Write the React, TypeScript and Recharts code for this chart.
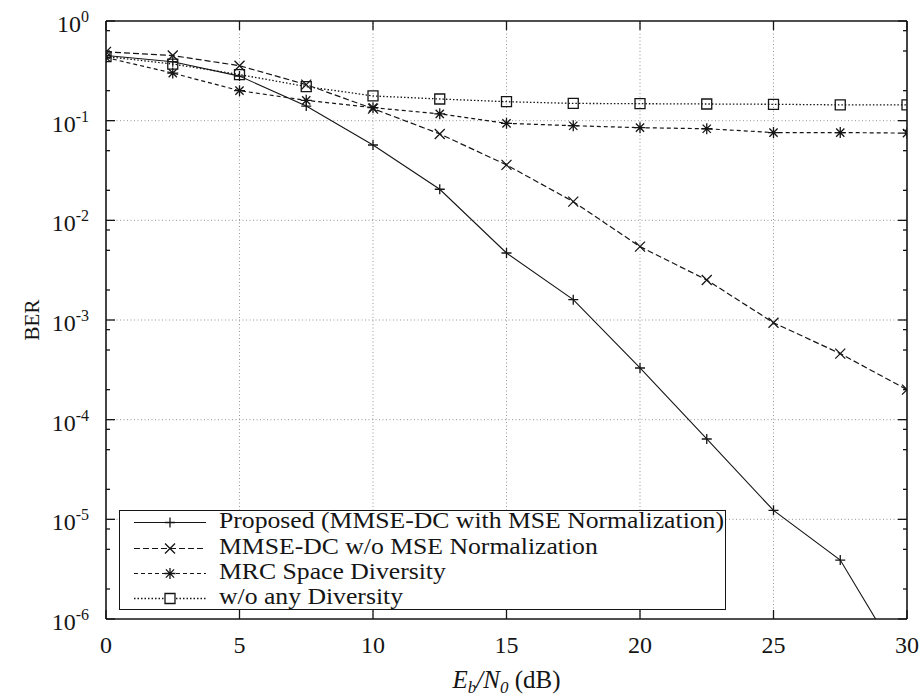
import React from 'react';
import { LineChart, Line, XAxis, YAxis, ReferenceLine } from 'recharts';

// ---- data ----
const snrDb = [0, 2.5, 5, 7.5, 10, 12.5, 15, 17.5, 20, 22.5, 25, 27.5, 30];
const proposedBer = [0.45, 0.39, 0.28, 0.14, 0.057, 0.0205, 0.0047, 0.0016, 3.3e-4, 6.4e-5, 1.23e-5, 3.9e-6, 3e-7];
const mmseNoNormBer = [0.49, 0.45, 0.356, 0.23, 0.132, 0.0736, 0.036, 0.0154, 0.00545, 0.00252, 9.4e-4, 4.6e-4, 2.0e-4];
const mrcBer = [0.43, 0.3, 0.2, 0.16, 0.135, 0.117, 0.094, 0.089, 0.085, 0.083, 0.076, 0.076, 0.075];
const noDiversityBer = [0.44, 0.37, 0.29, 0.22, 0.177, 0.165, 0.155, 0.149, 0.148, 0.147, 0.146, 0.144, 0.144];

const seriesNames = [
  'Proposed (MMSE-DC with MSE Normalization)',
  'MMSE-DC w/o MSE Normalization',
  'MRC Space Diversity',
  'w/o any Diversity',
];

const xTicks = [0, 5, 10, 15, 20, 25, 30];
const xGridValues = [5, 10, 15, 20, 25];
const decadeExponents = [-6, -5, -4, -3, -2, -1, 0];
const minorMantissas = [2, 5, 8];
const yLabel = 'BER';

// ---- derived tables ----
const data = snrDb.map((x, i) => ({
  x,
  proposed: proposedBer[i],
  mmse: mmseNoNormBer[i],
  mrc: mrcBer[i],
  none: noDiversityBer[i],
}));
const decades = decadeExponents.map((e) => Number(`1e${e}`));
const yTicks: number[] = [];
decadeExponents.forEach((e) => {
  yTicks.push(Number(`1e${e}`));
  if (e < 0) minorMantissas.forEach((m) => yTicks.push(Number(`${m}e${e}`)));
});
yTicks.sort((a, b) => a - b);

const INK = '#151515';
const FONT = '"Liberation Serif", "Times New Roman", serif';

const isMajor = (v: number) => {
  const lg = Math.log10(v);
  return Math.abs(lg - Math.round(lg)) < 1e-6;
};

// ---- markers ----
const plusPath = (cx: number, cy: number, r = 5) => `M${cx - r},${cy}h${2 * r}M${cx},${cy - r}v${2 * r}`;
const crossPath = (cx: number, cy: number, r = 5) => `M${cx - r},${cy - r}L${cx + r},${cy + r}M${cx - r},${cy + r}L${cx + r},${cy - r}`;
const starPath = (cx: number, cy: number, r = 5.5) => plusPath(cx, cy, r) + crossPath(cx, cy, r * 0.75);
const squarePath = (cx: number, cy: number, r = 5) => `M${cx - r},${cy - r}h${2 * r}v${2 * r}h${-2 * r}Z`;

const markerPaths = [plusPath, crossPath, starPath, squarePath];
const dashes = ['', '6 3', '4 3', '1.5 2'];
const widths = [1.1, 1.2, 1.2, 1.3];

const makeDot = (k: number) => (p: any) => {
  if (p.cx == null || p.cy == null) return <g key={p.index} />;
  return <path key={p.index} d={markerPaths[k](p.cx, p.cy)} stroke={INK} strokeWidth={1.3} fill="none" />;
};

// ---- axis ticks ----
const LeftTick = (props: any) => {
  const { x, y, payload } = props;
  const v = payload.value;
  const major = isMajor(v);
  return (
    <g>
      <line x1={x} y1={y} x2={x + (major ? 9 : 4)} y2={y} stroke={INK} strokeWidth={1.3} />
      {major && (
        <text x={x - 17} y={y + 11} textAnchor="end" fill={INK} fontFamily={FONT}>
          <tspan fontSize={24}>10</tspan>
          <tspan fontSize={16} dy={-10}>{String(Math.round(Math.log10(v)))}</tspan>
        </text>
      )}
    </g>
  );
};
const RightTick = (props: any) => {
  const { x, y, payload } = props;
  const major = isMajor(payload.value);
  return <line x1={x} y1={y} x2={x - (major ? 9 : 4)} y2={y} stroke={INK} strokeWidth={1.3} />;
};
const BottomTick = (props: any) => {
  const { x, y, payload } = props;
  return (
    <g>
      <line x1={x} y1={y} x2={x} y2={y - 9} stroke={INK} strokeWidth={1.3} />
      <text x={x} y={y + 34} textAnchor="middle" fontSize={24} fill={INK} fontFamily={FONT}>
        {String(payload.value)}
      </text>
    </g>
  );
};
const TopTick = (props: any) => {
  const { x, y } = props;
  return <line x1={x} y1={y} x2={x} y2={y + 9} stroke={INK} strokeWidth={1.3} />;
};

const XLabel = (props: any) => {
  const vb = props.viewBox || {};
  const cx = vb.x + vb.width / 2;
  return (
    <text x={cx} y={vb.y + 69} textAnchor="middle" fontSize={25} fill={INK} fontFamily={FONT}>
      <tspan fontStyle="italic">E</tspan>
      <tspan fontStyle="italic" fontSize={17} dy={5}>b</tspan>
      <tspan fontStyle="italic" dy={-5}>/N</tspan>
      <tspan fontStyle="italic" fontSize={17} dy={5}>0</tspan>
      <tspan dy={-5}> (dB)</tspan>
    </text>
  );
};
const YLabel = (props: any) => {
  const vb = props.viewBox || {};
  const cy = vb.y + vb.height / 2;
  const cx = 32;
  return (
    <text x={cx} y={cy} textAnchor="middle" dominantBaseline="central" fontSize={21} fill={INK} fontFamily={FONT}
      transform={`rotate(-90 ${cx} ${cy})`}>
      {yLabel}
    </text>
  );
};

const gridStyle = { stroke: '#8a8a8a', strokeWidth: 0.9, strokeDasharray: '1 2.5' };

const LegendBox = () => (
  <div
    style={{
      position: 'absolute',
      left: 119,
      top: 510,
      width: 607,
      height: 100,
      boxSizing: 'border-box',
      border: `1.3px solid ${INK}`,
      background: '#fff',
      fontFamily: FONT,
      color: INK,
    }}
  >
    {seriesNames.map((name, k) => {
      const top = 11.7 + k * 25.4 - 12.5;
      return (
        <div key={name} style={{ position: 'absolute', left: 0, top, height: 25, width: '100%' }}>
          <svg width={80} height={25} style={{ position: 'absolute', left: 14, top: 0 }}>
            <line x1={0} y1={12.5} x2={72} y2={12.5} stroke={INK} strokeWidth={widths[k]} strokeDasharray={dashes[k] || undefined} />
            <path d={markerPaths[k](36, 12.5)} stroke={INK} strokeWidth={1.3} fill={k === 3 ? '#fff' : 'none'} />
          </svg>
          <div
            style={{
              position: 'absolute',
              left: 99,
              top: -2,
              fontSize: 24,
              lineHeight: '25px',
              whiteSpace: 'nowrap',
              transform: 'scaleX(1.07)',
              transformOrigin: 'left center',
            }}
          >
            {name}
          </div>
        </div>
      );
    })}
  </div>
);

const axisLine = { stroke: INK, strokeWidth: 1.6 };

export default function App() {
  const keys = ['proposed', 'mmse', 'mrc', 'none'];
  return (
    <div style={{ position: 'absolute', left: 0, top: 0, width: 921, height: 697, background: '#fff' }}>
      <LineChart width={921} height={697} data={data} margin={{ top: 20, right: 13, bottom: 77, left: 105 }}>
        <XAxis
          dataKey="x"
          type="number"
          domain={[0, 30]}
          ticks={xTicks}
          interval={0}
          allowDataOverflow
          height={1}
          tickSize={0}
          tickMargin={0}
          tickLine={false}
          tick={<BottomTick />}
          axisLine={axisLine}
          label={<XLabel />}
        />
        <XAxis
          xAxisId="top"
          orientation="top"
          dataKey="x"
          type="number"
          domain={[0, 30]}
          ticks={xTicks}
          interval={0}
          allowDataOverflow
          height={1}
          tickSize={0}
          tickMargin={0}
          tickLine={false}
          tick={<TopTick />}
          axisLine={axisLine}
        />
        <YAxis
          type="number"
          scale="log"
          domain={[1e-6, 1]}
          ticks={yTicks}
          interval={0}
          allowDataOverflow
          width={1}
          tickSize={0}
          tickMargin={0}
          tickLine={false}
          tick={<LeftTick />}
          axisLine={axisLine}
          label={<YLabel />}
        />
        <YAxis
          yAxisId="right"
          orientation="right"
          type="number"
          scale="log"
          domain={[1e-6, 1]}
          ticks={yTicks}
          interval={0}
          allowDataOverflow
          width={1}
          tickSize={0}
          tickMargin={0}
          tickLine={false}
          tick={<RightTick />}
          axisLine={axisLine}
        />
        {decades.slice(1, -1).map((d) => (
          <ReferenceLine key={`h${d}`} y={d} {...gridStyle} />
        ))}
        {xGridValues.map((v) => (
          <ReferenceLine key={`v${v}`} x={v} {...gridStyle} />
        ))}
        {keys.map((k, i) => (
          <Line
            key={k}
            dataKey={k}
            type="linear"
            stroke={INK}
            strokeWidth={widths[i]}
            strokeDasharray={dashes[i] || undefined}
            dot={makeDot(i)}
            activeDot={false}
            isAnimationActive={false}
          />
        ))}
      </LineChart>
      <LegendBox />
    </div>
  );
}
